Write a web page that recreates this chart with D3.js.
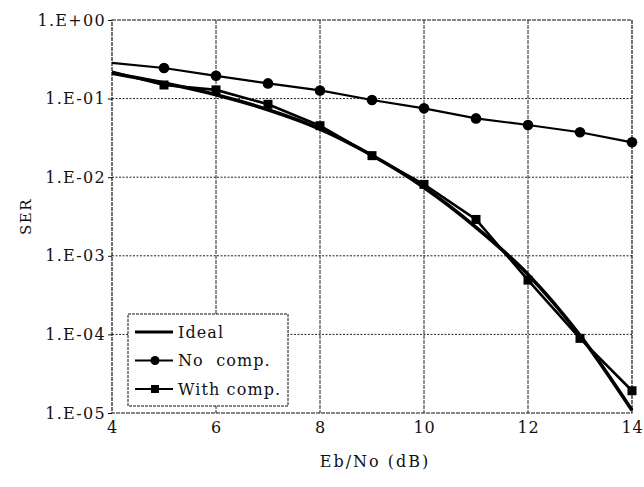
<!DOCTYPE html>
<html>
<head>
<meta charset="utf-8">
<script src="https://cdn.jsdelivr.net/npm/d3@7"></script>
<style>
  body { margin: 0; background: #fff; }
  svg text { font-family: "DejaVu Serif", "Liberation Serif", serif; fill: #111; }
</style>
</head>
<body>
<svg id="chart" width="644" height="487"></svg>
<script>
// ── data ──────────────────────────────────────────────────────
const ebno = [4, 5, 6, 7, 8, 9, 10, 11, 12, 13, 14];

const serIdeal  = [0.21, 0.158, 0.112, 0.072, 0.041, 0.0190, 0.0074, 0.0023, 0.00058, 0.000097, 0.0000108];
const serNoComp = [0.284, 0.245, 0.195, 0.156, 0.127, 0.096, 0.0752, 0.056, 0.0461, 0.0373, 0.0278];
const serComp   = [0.22, 0.149, 0.129, 0.0846, 0.0452, 0.0188, 0.0081, 0.0029, 0.00049, 0.000089, 0.0000192];

const xTicks = [4, 6, 8, 10, 12, 14];
const yTicks = [1, 1e-1, 1e-2, 1e-3, 1e-4, 1e-5];
const yTickLabels = ['1.E+00', '1.E-01', '1.E-02', '1.E-03', '1.E-04', '1.E-05'];

const legendItems = [
  { label: 'Ideal',      marker: null },
  { label: 'No  comp.',  marker: 'circle' },
  { label: 'With comp.', marker: 'square' },
];

// ── layout ────────────────────────────────────────────────────
const FONT = '"DejaVu Serif", "Liberation Serif", serif';
const margin = { left: 112, top: 20, right: 12, bottom: 74 };
const W = 644, H = 487;
const svg = d3.select('#chart');

const x = d3.scaleLinear().domain([4, 14]).range([margin.left, W - margin.right]);
const y = d3.scaleLog().domain([1e-5, 1]).range([H - margin.bottom, margin.top]);

const g = svg.append('g');

// grid
g.append('g')
  .selectAll('line')
  .data(xTicks.slice(1, -1))
  .join('line')
  .attr('x1', d => x(d)).attr('x2', d => x(d))
  .attr('y1', y.range()[1]).attr('y2', y.range()[0])
  .attr('stroke', '#222').attr('stroke-width', 1)
  .attr('stroke-dasharray', '4,1');

g.append('g')
  .selectAll('line')
  .data(yTicks.slice(1, -1))
  .join('line')
  .attr('x1', x.range()[0]).attr('x2', x.range()[1])
  .attr('y1', d => y(d)).attr('y2', d => y(d))
  .attr('stroke', '#222').attr('stroke-width', 1)
  .attr('stroke-dasharray', '2,1.5');

// frame
g.append('rect')
  .attr('x', x.range()[0]).attr('y', y.range()[1])
  .attr('width', x.range()[1] - x.range()[0])
  .attr('height', y.range()[0] - y.range()[1])
  .attr('fill', 'none').attr('stroke', '#111').attr('stroke-width', 1.2)
  .attr('stroke-dasharray', '4,1');

// axes
const xAxis = d3.axisBottom(x).tickValues(xTicks).tickSize(0).tickPadding(9).tickFormat(d3.format('d'));
g.append('g')
  .attr('transform', `translate(0,${y.range()[0]})`)
  .call(xAxis)
  .attr('font-family', FONT)
  .call(a => a.select('.domain').remove())
  .selectAll('text')
  .attr('font-size', 16)
  .attr('letter-spacing', '0.8px')
  .attr('fill', '#111');

const yAxis = d3.axisLeft(y).tickValues(yTicks).tickSize(4).tickPadding(2)
  .tickFormat((d, i) => yTickLabels[i]);
g.append('g')
  .attr('transform', `translate(${x.range()[0]},0)`)
  .call(yAxis)
  .attr('font-family', FONT)
  .call(a => a.select('.domain').remove())
  .call(a => a.selectAll('line').attr('stroke', '#111'))
  .selectAll('text')
  .attr('font-size', 16)
  .attr('letter-spacing', '1.3px')
  .attr('fill', '#111');

// axis titles
svg.append('text')
  .attr('x', 375).attr('y', 467)
  .attr('text-anchor', 'middle')
  .attr('font-family', FONT)
  .attr('font-size', 16).attr('letter-spacing', '2px')
  .text('Eb/No (dB)');

svg.append('text')
  .attr('transform', `translate(31,${(y.range()[0] + y.range()[1]) / 2}) rotate(-90)`)
  .attr('text-anchor', 'middle')
  .attr('font-family', FONT)
  .attr('font-size', 15).attr('letter-spacing', '1.5px')
  .text('SER');

// curves
const line = d3.line().x(d => x(d[0])).y(d => y(d[1]));
const zipped = vals => ebno.map((e, i) => [e, vals[i]]);

const ideal = zipped(serIdeal);
const noComp = zipped(serNoComp);
const comp = zipped(serComp);

g.append('path').datum(ideal)
  .attr('d', line.curve(d3.curveMonotoneX))
  .attr('fill', 'none').attr('stroke', '#000').attr('stroke-width', 3.6);

line.curve(d3.curveLinear);

g.append('path').datum(comp)
  .attr('d', line)
  .attr('fill', 'none').attr('stroke', '#000').attr('stroke-width', 2.6);

g.append('path').datum(noComp)
  .attr('d', line)
  .attr('fill', 'none').attr('stroke', '#000').attr('stroke-width', 2.2);

g.append('g')
  .selectAll('circle')
  .data(noComp.slice(1))
  .join('circle')
  .attr('cx', d => x(d[0])).attr('cy', d => y(d[1]))
  .attr('r', 5.3).attr('fill', '#000');

g.append('g')
  .selectAll('rect')
  .data(comp.slice(1))
  .join('rect')
  .attr('x', d => x(d[0]) - 4.5).attr('y', d => y(d[1]) - 4.5)
  .attr('width', 9).attr('height', 9).attr('fill', '#000');

// legend
const lg = svg.append('g').attr('transform', 'translate(128,314)');
lg.append('rect')
  .attr('width', 160).attr('height', 92)
  .attr('fill', '#fff').attr('stroke', '#111').attr('stroke-width', 1)
  .attr('stroke-dasharray', '3,1');

const rows = lg.selectAll('g.row')
  .data(legendItems)
  .join('g')
  .attr('class', 'row')
  .attr('transform', (d, i) => `translate(0,${18 + i * 28.5})`);

rows.append('line')
  .attr('x1', 7).attr('x2', 45)
  .attr('stroke', '#000')
  .attr('stroke-width', d => d.marker ? 2 : 3);

rows.filter(d => d.marker === 'circle').append('circle')
  .attr('cx', 27).attr('cy', 0).attr('r', 4.5).attr('fill', '#000');

rows.filter(d => d.marker === 'square').append('rect')
  .attr('x', 23).attr('y', -4).attr('width', 8).attr('height', 8).attr('fill', '#000');

rows.append('text')
  .attr('x', 50).attr('y', 5.5)
  .attr('font-family', FONT)
  .attr('font-size', 16).attr('letter-spacing', '1.1px')
  .style('white-space', 'pre')
  .text(d => d.label);
</script>
</body>
</html>
